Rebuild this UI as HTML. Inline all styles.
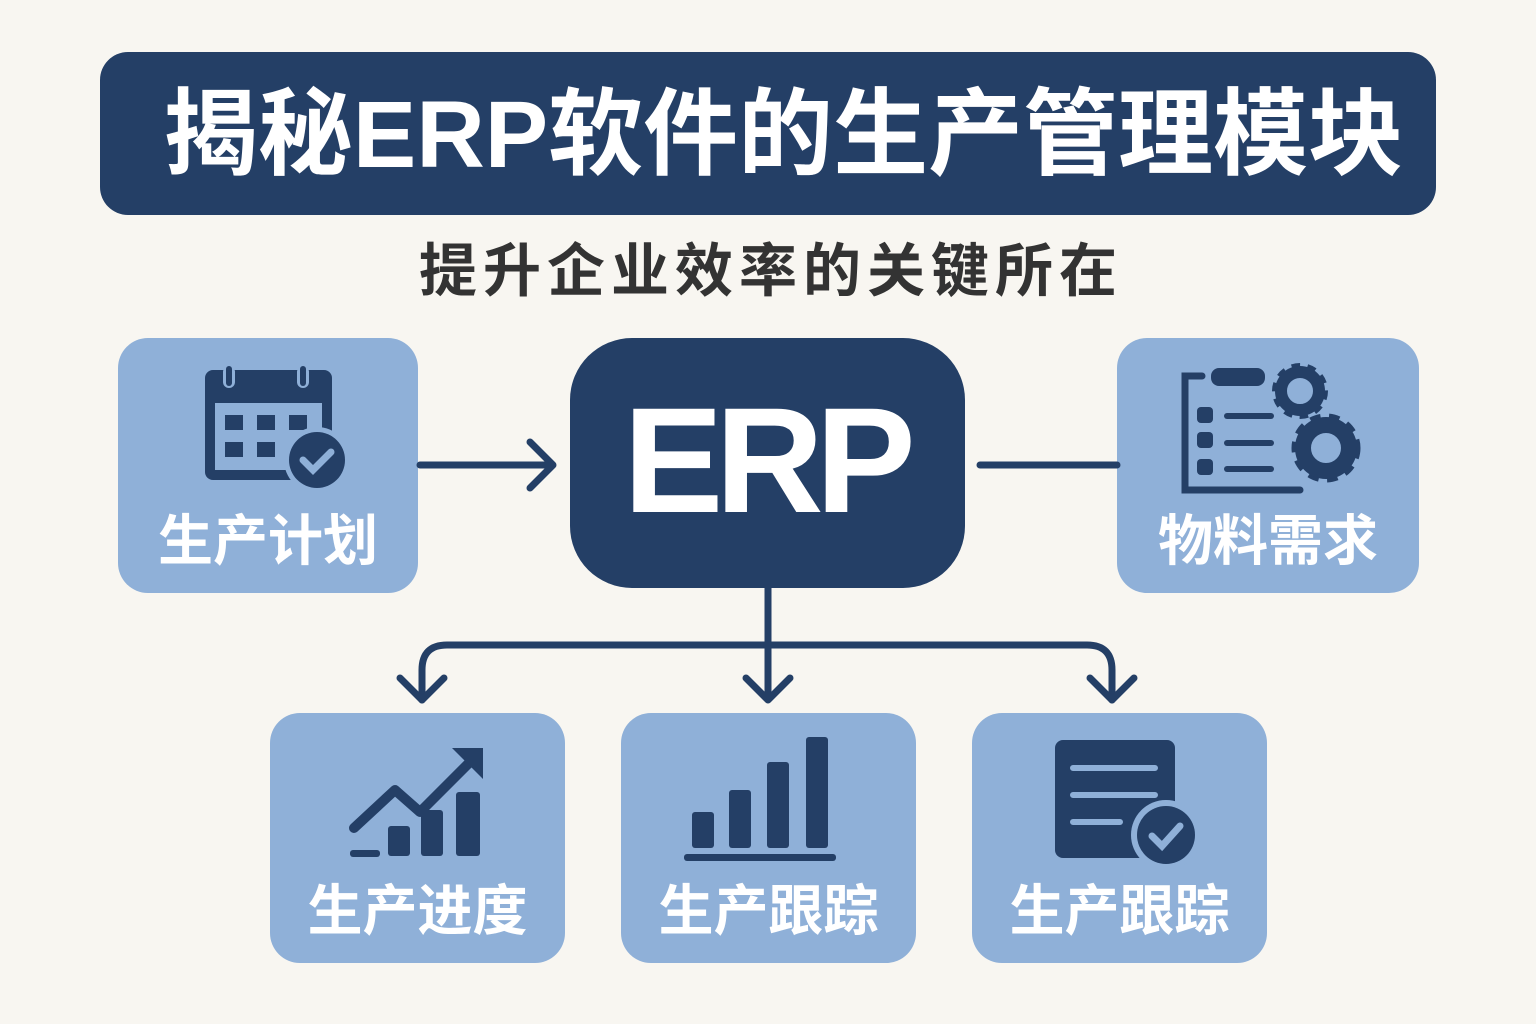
<!DOCTYPE html>
<html><head><meta charset="utf-8"><style>
body{margin:0;width:1536px;height:1024px;background:#f8f6f1;position:relative;overflow:hidden;font-family:"Liberation Sans","Noto Sans CJK SC",sans-serif}
.a{position:absolute}
.t{color:#fff;font-weight:bold;text-align:center;white-space:nowrap}
.box{background:#8fb0d8;border-radius:30px}
</style></head><body>
<div class="a" style="left:100px;top:52px;width:1336px;height:163px;background:#243f66;border-radius:28px"></div>
<div class="a t" style="left:100px;top:78px;width:1336px;font-size:95px;line-height:115px;padding-left:30px;box-sizing:border-box">揭秘ERP软件的生产管理模块</div>
<div class="a" style="left:0;top:236px;width:1536px;text-align:center;font-size:58px;line-height:72px;color:#333;font-weight:bold;letter-spacing:6px;padding-left:6px;box-sizing:border-box">提升企业效率的关键所在</div>

<div class="a box" style="left:118px;top:338px;width:300px;height:255px"></div>
<div class="a box" style="left:1117px;top:338px;width:302px;height:255px"></div>
<div class="a" style="left:570px;top:338px;width:395px;height:250px;background:#243f66;border-radius:62px"></div>
<div class="a t" style="left:570px;top:385px;width:395px;font-size:150px;line-height:150px;letter-spacing:-8px;padding-right:4px;box-sizing:border-box">ERP</div>
<div class="a box" style="left:270px;top:713px;width:295px;height:250px"></div>
<div class="a box" style="left:621px;top:713px;width:295px;height:250px"></div>
<div class="a box" style="left:972px;top:713px;width:295px;height:250px"></div>

<div class="a t" style="left:118px;top:508px;width:300px;font-size:55px;line-height:66px">生产计划</div>
<div class="a t" style="left:1117px;top:508px;width:302px;font-size:55px;line-height:66px">物料需求</div>
<div class="a t" style="left:270px;top:878px;width:295px;font-size:55px;line-height:66px">生产进度</div>
<div class="a t" style="left:621px;top:878px;width:295px;font-size:55px;line-height:66px">生产跟踪</div>
<div class="a t" style="left:972px;top:878px;width:295px;font-size:55px;line-height:66px">生产跟踪</div>

<svg class="a" style="left:0;top:0" width="1536" height="1024">
<g stroke="#243f66" stroke-width="7" fill="none" stroke-linecap="round" stroke-linejoin="round">
<path d="M420 465H552M530 442L553 465L530 488"/>
<path d="M980 465H1117"/>
<path d="M768 588V700M746 678L768 700L790 678"/>
<path d="M422 700V670Q422 645 447 645H1087Q1112 645 1112 670V700"/>
<path d="M400 678L422 700L444 678M1090 678L1112 700L1134 678"/>
</g>
<g fill="#243f66">
<rect x="205" y="370" width="127" height="110" rx="8"/>
<rect x="215" y="403" width="107" height="67" fill="#8fb0d8"/>
<rect x="223" y="366" width="12" height="22" rx="6" fill="#8fb0d8"/><rect x="226" y="366" width="6" height="20" rx="3"/>
<rect x="297" y="366" width="12" height="22" rx="6" fill="#8fb0d8"/><rect x="300" y="366" width="6" height="20" rx="3"/>
<rect x="225" y="415" width="18" height="15"/><rect x="257" y="415" width="18" height="15"/><rect x="289" y="415" width="18" height="15"/>
<rect x="225" y="442" width="18" height="15"/><rect x="257" y="442" width="18" height="15"/>
<circle cx="317" cy="460" r="33" fill="#8fb0d8"/><circle cx="317" cy="460" r="28"/>
<path d="M303 460L313 470L331 452" stroke="#8fb0d8" stroke-width="7" fill="none" stroke-linecap="round"/>
<path d="M1202 376H1185V490H1300" stroke="#243f66" stroke-width="7" fill="none" stroke-linecap="round"/>
<rect x="1211" y="368" width="54" height="18" rx="8"/>
<rect x="1197" y="407" width="16" height="16" rx="4"/><rect x="1197" y="432" width="16" height="16" rx="4"/><rect x="1197" y="459" width="16" height="16" rx="4"/>
<rect x="1224" y="413" width="50" height="6" rx="3"/><rect x="1224" y="440" width="50" height="6" rx="3"/><rect x="1224" y="466" width="50" height="6" rx="3"/>
<circle cx="1300" cy="391" r="24" fill="none" stroke="#243f66" stroke-width="8" stroke-dasharray="8 7"/>
<circle cx="1300" cy="391" r="19" fill="none" stroke="#243f66" stroke-width="12"/>
<circle cx="1326" cy="448" r="30" fill="none" stroke="#243f66" stroke-width="9" stroke-dasharray="10 8"/>
<circle cx="1326" cy="448" r="23" fill="none" stroke="#243f66" stroke-width="16"/>
<rect x="388" y="826" width="22" height="30" rx="3"/><rect x="421" y="810" width="22" height="46" rx="3"/><rect x="456" y="792" width="24" height="64" rx="3"/>
<rect x="350" y="850" width="30" height="7" rx="3"/>
<path d="M354 828L395 790L420 812L470 762" stroke="#243f66" stroke-width="10" fill="none" stroke-linecap="round" stroke-linejoin="round"/>
<path d="M452 748H483V779Z"/>
<rect x="692" y="812" width="22" height="36" rx="3"/><rect x="729" y="790" width="22" height="58" rx="3"/><rect x="767" y="762" width="22" height="86" rx="3"/><rect x="806" y="737" width="22" height="111" rx="3"/>
<rect x="684" y="854" width="152" height="7" rx="3"/>
<rect x="1055" y="740" width="120" height="118" rx="8"/>
<g stroke="#8fb0d8" stroke-width="6" stroke-linecap="round"><path d="M1073 768H1155M1073 795H1155M1073 822H1120"/></g>
<circle cx="1166" cy="835" r="35" fill="#8fb0d8"/><circle cx="1166" cy="835" r="29"/>
<path d="M1152 836L1162 846L1180 826" stroke="#8fb0d8" stroke-width="7" fill="none" stroke-linecap="round"/>
</g>
</svg>
</body></html>
